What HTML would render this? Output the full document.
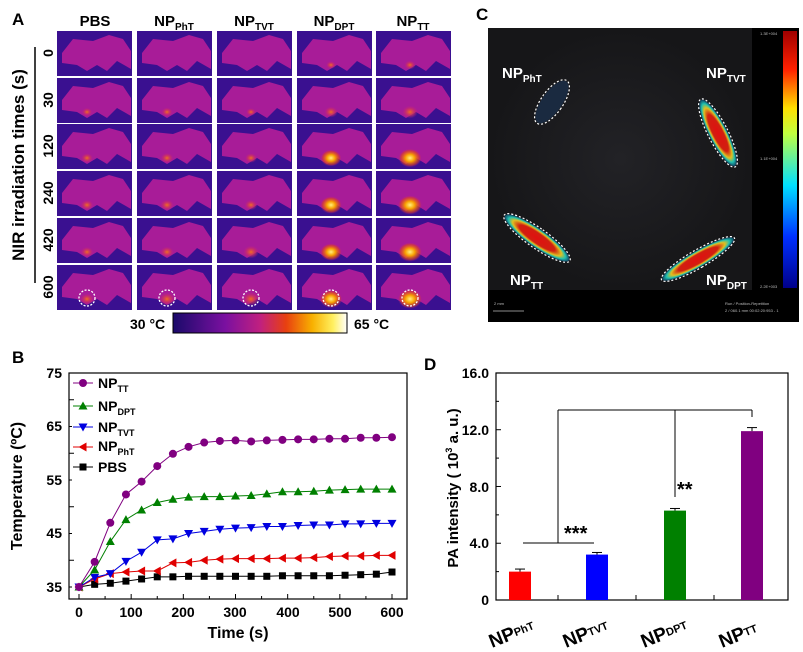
<!DOCTYPE html>
<html><head><meta charset="utf-8"><style>
body{margin:0;background:#fff}
svg{display:block;font-family:"Liberation Sans",Arial,sans-serif;font-weight:bold}
</style></head><body>
<svg id="s" width="803" height="652" viewBox="0 0 803 652" xmlns="http://www.w3.org/2000/svg">
<defs>
<linearGradient id="cb" x1="0" x2="1"><stop offset="0" stop-color="#1a0a6a"/><stop offset="0.3" stop-color="#7a10a0"/><stop offset="0.5" stop-color="#c02080"/><stop offset="0.65" stop-color="#e84010"/><stop offset="0.8" stop-color="#f8b000"/><stop offset="0.92" stop-color="#fff060"/><stop offset="1" stop-color="#fff"/></linearGradient>
<linearGradient id="cb2" x1="0" y1="1" x2="0" y2="0"><stop offset="0" stop-color="#00008a"/><stop offset="0.2" stop-color="#0030ff"/><stop offset="0.4" stop-color="#00e0ff"/><stop offset="0.6" stop-color="#c0ff40"/><stop offset="0.7" stop-color="#ffe000"/><stop offset="0.85" stop-color="#ff2000"/><stop offset="1" stop-color="#a00000"/></linearGradient>
<radialGradient id="hot"><stop offset="0" stop-color="#fff080"/><stop offset="0.4" stop-color="#f8a000"/><stop offset="0.8" stop-color="#e04020" stop-opacity="0.6"/><stop offset="1" stop-color="#c02080" stop-opacity="0"/></radialGradient>
<radialGradient id="warm"><stop offset="0" stop-color="#f07020"/><stop offset="0.6" stop-color="#d03060" stop-opacity="0.6"/><stop offset="1" stop-color="#c02080" stop-opacity="0"/></radialGradient>
<radialGradient id="bg"><stop offset="0" stop-color="#222226"/><stop offset="1" stop-color="#161618"/></radialGradient>
<radialGradient id="pa"><stop offset="0" stop-color="#e01010"/><stop offset="0.55" stop-color="#d02010"/><stop offset="0.75" stop-color="#e0c020"/><stop offset="0.88" stop-color="#20c0b0"/><stop offset="1" stop-color="#104060"/></radialGradient>
</defs>
<g id="A"></g>
<text x="12" y="25" font-size="17">A</text>
<text x="95" y="26" font-size="15" text-anchor="middle">PBS</text>
<text x="174" y="26" font-size="15" text-anchor="middle">NP<tspan font-size="10" dy="4">PhT</tspan></text>
<text x="254" y="26" font-size="15" text-anchor="middle">NP<tspan font-size="10" dy="4">TVT</tspan></text>
<text x="334" y="26" font-size="15" text-anchor="middle">NP<tspan font-size="10" dy="4">DPT</tspan></text>
<text x="413" y="26" font-size="15" text-anchor="middle">NP<tspan font-size="10" dy="4">TT</tspan></text>
<text transform="translate(24,165) rotate(-90)" font-size="17" text-anchor="middle">NIR irradiation times (s)</text>
<line x1="35" y1="47" x2="35" y2="283" stroke="#000" stroke-width="1.5"/>
<g font-size="14" text-anchor="middle">
<text transform="translate(53,53) rotate(-90)">0</text>
<text transform="translate(53,100) rotate(-90)">30</text>
<text transform="translate(53,146) rotate(-90)">120</text>
<text transform="translate(53,193) rotate(-90)">240</text>
<text transform="translate(53,240) rotate(-90)">420</text>
<text transform="translate(53,287) rotate(-90)">600</text>
</g>
<rect x="173" y="313" width="174" height="20" fill="url(#cb)" stroke="#000"/>
<text x="130" y="329" font-size="14">30 °C</text>
<text x="354" y="329" font-size="14">65 °C</text>

<text x="476" y="20" font-size="17">C</text>
<rect x="488" y="28" width="311" height="294" fill="#000"/>
<rect x="488" y="28" width="264" height="262" fill="url(#bg)"/>
<rect x="783" y="31" width="14" height="257" fill="url(#cb2)"/>
<g fill="#bbb" font-size="4" font-weight="normal"><text x="760" y="35">1.3E+004</text><text x="760" y="160">1.1E+004</text><text x="760" y="288">2.2E+003</text><text x="725" y="305">Run / Position-Repetition</text><text x="725" y="312">2 / 060.1 mm 00:02:20:953 - 1</text><text x="494" y="305">2 mm</text></g>
<line x1="493" y1="311" x2="524" y2="311" stroke="#bbb" stroke-width="0.7"/>
<g>
<ellipse cx="552" cy="102" rx="10" ry="25" transform="rotate(35 552 102)" fill="#1a2a40"/>
<ellipse cx="718" cy="133" rx="9" ry="37" transform="rotate(-27 718 133)" fill="url(#pa)"/>
<ellipse cx="537" cy="238" rx="9" ry="39" transform="rotate(-55 537 238)" fill="url(#pa)"/>
<ellipse cx="698" cy="259" rx="8" ry="41" transform="rotate(60 698 259)" fill="url(#pa)"/>
</g>
<g stroke-dasharray="2,2" stroke="#fff" stroke-width="1.2" fill="none">
<ellipse cx="552" cy="102" rx="11" ry="26" transform="rotate(35 552 102)"/>
<ellipse cx="718" cy="133" rx="10" ry="38" transform="rotate(-27 718 133)"/>
<ellipse cx="537" cy="238" rx="10" ry="40" transform="rotate(-55 537 238)"/>
<ellipse cx="698" cy="259" rx="9" ry="42" transform="rotate(60 698 259)"/>
</g>
<g fill="#fff" font-size="15">
<text x="502" y="78">NP<tspan font-size="10" dy="4">PhT</tspan></text>
<text x="706" y="78">NP<tspan font-size="10" dy="4">TVT</tspan></text>
<text x="510" y="285">NP<tspan font-size="10" dy="4">TT</tspan></text>
<text x="706" y="285">NP<tspan font-size="10" dy="4">DPT</tspan></text>
</g>

<text x="12" y="363" font-size="17">B</text>
<rect x="69" y="373" width="338" height="226" fill="none" stroke="#000" stroke-width="1.2"/>
<g font-size="14" text-anchor="end"><text x="62" y="378">75</text><text x="62" y="485">55</text><text x="62" y="538">45</text><text x="62" y="431" >65</text><text x="62" y="592">35</text></g>
<g font-size="14" text-anchor="middle"><text x="79" y="617">0</text><text x="131" y="617">100</text><text x="183" y="617">200</text><text x="235" y="617">300</text><text x="288" y="617">400</text><text x="340" y="617">500</text><text x="392" y="617">600</text></g>
<text x="238" y="638" font-size="16" text-anchor="middle">Time (s)</text>
<text transform="translate(22,486) rotate(-90)" font-size="16" text-anchor="middle">Temperature (ºC)</text>
<g id="B"></g>
<g font-size="14">
<text x="98" y="388">NP<tspan font-size="9" dy="4">TT</tspan></text>
<text x="98" y="411">NP<tspan font-size="9" dy="4">DPT</tspan></text>
<text x="98" y="432">NP<tspan font-size="9" dy="4">TVT</tspan></text>
<text x="98" y="451">NP<tspan font-size="9" dy="4">PhT</tspan></text>
<text x="98" y="472">PBS</text>
</g>

<text x="424" y="370" font-size="17">D</text>
<rect x="496" y="373" width="292" height="227" fill="none" stroke="#000" stroke-width="1.2"/>
<g font-size="14" text-anchor="end"><text x="489" y="378">16.0</text><text x="489" y="435">12.0</text><text x="489" y="492">8.0</text><text x="489" y="548">4.0</text><text x="489" y="605">0</text></g>
<text transform="translate(458,488) rotate(-90)" font-size="15" text-anchor="middle">PA intensity ( 10<tspan font-size="9" dy="-6">3</tspan><tspan dy="6"> a. u.)</tspan></text>
<g id="D"></g>
<g font-size="19">
<text transform="translate(492,648) rotate(-22)">NP<tspan font-size="11" dy="-2">PhT</tspan></text>
<text transform="translate(566,648) rotate(-22)">NP<tspan font-size="11" dy="-2">TVT</tspan></text>
<text transform="translate(644,648) rotate(-22)">NP<tspan font-size="11" dy="-2">DPT</tspan></text>
<text transform="translate(722,648) rotate(-22)">NP<tspan font-size="11" dy="-2">TT</tspan></text>
</g>
<text x="564" y="540" font-size="20">***</text>
<text x="677" y="496" font-size="20">**</text>
</svg>
<script>
var NS="http://www.w3.org/2000/svg";
function el(p,t,a){var e=document.createElementNS(NS,t);for(var k in a)e.setAttribute(k,a[k]);p.appendChild(e);return e;}
var A=document.getElementById("A");
var cols=[57,137,217,297,376],rows=[31,78,124,171,218,265];
var hs=[[0,0.15,0.25,0.3,0.3,0.35],[0,0.2,0.3,0.35,0.35,0.5],[0,0.1,0.25,0.3,0.5,0.6],[0.1,0.35,0.8,0.85,0.85,0.9],[0.2,0.5,0.95,1,1,1]];
for(var c=0;c<5;c++)for(var r=0;r<6;r++){
 var x=cols[c],y=rows[r],w=75,h=45;
 var g=el(A,"g",{transform:"translate("+x+","+y+")"});
 el(g,"rect",{x:0,y:0,width:w,height:h,fill:"#3a1090"});
 el(g,"polygon",{points:"5,22 16,8 36,10 52,4 66,8 74,20 74,38 60,30 50,40 40,34 30,40 20,34 5,32",fill:"#a81c98"});
 var v=hs[c][r];
 if(v>0){var rad=4+v*8;el(g,"ellipse",{cx:c<2?30:34,cy:34,rx:rad,ry:rad*0.8,fill:v>0.6?"url(#hot)":"url(#warm)"});}
 if(r==5)el(g,"circle",{cx:c<2?30:34,cy:33,r:8,fill:"none",stroke:"#fff","stroke-width":1.3,"stroke-dasharray":"2,1.5"});
}
var B=document.getElementById("B");
var d={tt:[35,39.7,47,52.3,54.7,57.6,59.9,61.2,62,62.3,62.4,62.2,62.4,62.5,62.6,62.6,62.7,62.7,62.9,62.9,63],
dpt:[35,38.2,43.5,47.6,49.4,50.8,51.4,51.8,51.9,51.9,52,52.1,52.4,52.8,52.8,52.9,53.1,53.2,53.3,53.3,53.3],
tvt:[35,36.8,37.5,39.8,41.5,43.8,44,45,45.4,45.8,46,46.1,46.3,46.3,46.5,46.6,46.6,46.8,46.8,46.9,46.9],
pht:[35,36.5,37.5,37.8,38,38,39.5,39.6,40,40.2,40.3,40.3,40.3,40.4,40.4,40.5,40.7,40.8,40.8,40.9,40.9],
pbs:[35,35.5,35.7,36.1,36.5,36.9,36.9,37,37,37,37,37,37,37.1,37.1,37.1,37.1,37.2,37.3,37.4,37.8]};
var sty={pbs:["#000","sq"],pht:["#e00000","lt"],tvt:["#0000e0","dt"],dpt:["#008000","ut"],tt:["#800080","ci"]};
function mk(p,x,y,k,s){var col=s[0];
 if(s[1]=="ci")el(p,"circle",{cx:x,cy:y,r:4,fill:col});
 else if(s[1]=="sq")el(p,"rect",{x:x-3.5,y:y-3.5,width:7,height:7,fill:col});
 else if(s[1]=="ut")el(p,"polygon",{points:(x)+","+(y-4.5)+" "+(x-4.5)+","+(y+3.5)+" "+(x+4.5)+","+(y+3.5),fill:col});
 else if(s[1]=="dt")el(p,"polygon",{points:(x)+","+(y+4.5)+" "+(x-4.5)+","+(y-3.5)+" "+(x+4.5)+","+(y-3.5),fill:col});
 else el(p,"polygon",{points:(x-4.5)+","+y+" "+(x+3.5)+","+(y-4.5)+" "+(x+3.5)+","+(y+4.5),fill:col});}
for(var t=0;t<=600;t+=50){var X=79+t*313/600;el(B,"line",{x1:X,x2:X,y1:599,y2:t%100?596:594,stroke:"#000"});}
for(var v=35;v<=75;v+=5){var Y=587-(v-35)*5.35;el(B,"line",{x1:69,x2:v%10?72:74,y1:Y,y2:Y,stroke:"#000"});}
["pbs","pht","tvt","dpt","tt"].forEach(function(k){var a=d[k],pts=[];
 for(var i=0;i<a.length;i++)pts.push((79+i*30*313/600)+","+(587-(a[i]-35)*5.35));
 el(B,"polyline",{points:pts.join(" "),fill:"none",stroke:sty[k][0],"stroke-width":1});
 for(var i=0;i<a.length;i++)mk(B,79+i*30*313/600,587-(a[i]-35)*5.35,k,sty[k]);});
var ly={tt:383,dpt:406,tvt:427,pht:447,pbs:467};
for(var k in ly){el(B,"line",{x1:73,x2:93,y1:ly[k],y2:ly[k],stroke:sty[k][0]});mk(B,83,ly[k],k,sty[k]);}
var D=document.getElementById("D");
function yd(v){return 600-v*14.19;}
for(var v=0;v<=16;v+=2){el(D,"line",{x1:496,x2:v%4?499:501,y1:yd(v),y2:yd(v),stroke:"#000"});}
[558,636,714].forEach(function(x){el(D,"line",{x1:x,x2:x,y1:600,y2:595,stroke:"#000"});});
var bars=[[520,2.0,0.18,"#ff0000"],[597,3.2,0.15,"#0000ff"],[675,6.3,0.15,"#008000"],[752,11.9,0.25,"#800080"]];
bars.forEach(function(b){el(D,"rect",{x:b[0]-11,y:yd(b[1]),width:22,height:600-yd(b[1]),fill:b[3]});
 el(D,"line",{x1:b[0],x2:b[0],y1:yd(b[1]),y2:yd(b[1]+b[2]),stroke:"#000"});
 el(D,"line",{x1:b[0]-5,x2:b[0]+5,y1:yd(b[1]+b[2]),y2:yd(b[1]+b[2]),stroke:"#000"});});
var L=[[523,543,594,543],[558,543,558,410],[558,410,752,410],[752,410,752,417],[675,410,675,497]];
L.forEach(function(l){el(D,"line",{x1:l[0],y1:l[1],x2:l[2],y2:l[3],stroke:"#000","stroke-width":1});});
</script>
</body></html>
